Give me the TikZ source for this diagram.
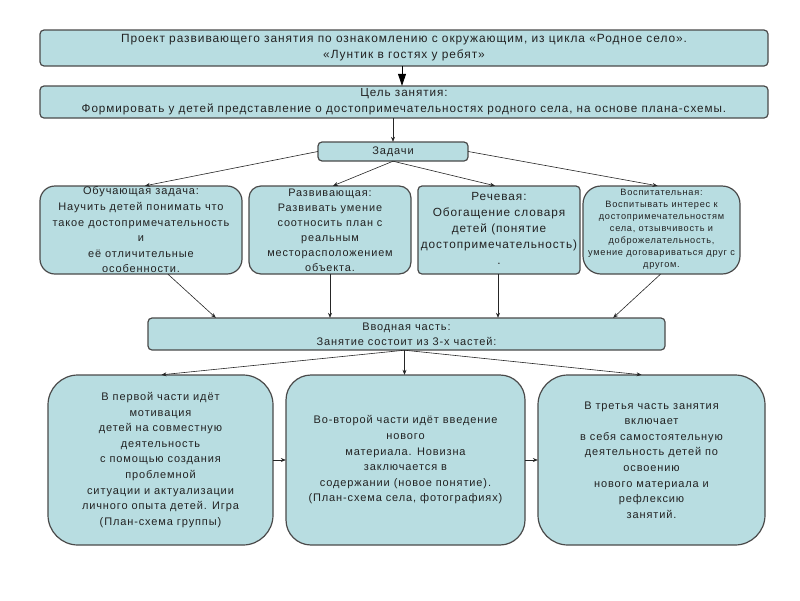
\documentclass[tikz,border=0pt]{standalone}
\usepackage{fontspec}
\setmainfont{Liberation Sans}[LetterSpace=8.0]
\usetikzlibrary{arrows.meta,calc}
\definecolor{boxfill}{HTML}{B8DDE1}
\definecolor{boxline}{HTML}{4A4A4A}
\definecolor{txt}{HTML}{222222}
\tikzset{
  box/.style={draw=boxline,fill=boxfill,line width=1.2pt,inner sep=0pt},
  sq/.style={box,rounded corners=4pt},
  txtnode/.style={align=center,text=txt,font=\fontsize{11}{15.6}\selectfont,inner sep=0pt},
  conn/.style={draw=black!85,line width=0.6pt,-{Stealth[length=5pt,width=4pt]}},
  bigconn/.style={draw=black,line width=0.8pt,-{Triangle[length=12pt,width=8pt]}}
}
\begin{document}
\begin{tikzpicture}[x=1pt,y=-1pt]
\useasboundingbox (0,0) rectangle (800,600);
% boxes
\path[sq] (40,30) rectangle (768,66);
\node[inner sep=0pt,minimum width=728pt,minimum height=36pt] (top) at (404,48) {};
\node[txtnode,font=\fontsize{11.9}{16}\selectfont] (toptxt) at (top.center) {Проект развивающего занятия по ознакомлению с окружающим, из цикла «Родное село».\\«Лунтик в гостях у ребят»};

\path[sq] (40,86) rectangle (768,118);
\node[inner sep=0pt,minimum width=728pt,minimum height=32pt] (goal) at (404,102) {};
\node[txtnode,font=\fontsize{11.7}{16}\selectfont] (goaltxt) at (goal.center) {Цель занятия:\\Формировать у детей представление о достопримечательностях родного села, на основе плана-схемы.};

\path[sq] (318,142) rectangle (468,161);
\node[inner sep=0pt,minimum width=150pt,minimum height=19pt] (zad) at (393,151.5) {};
\node[txtnode] (zadtxt) at (zad.center) {Задачи};

\path[box,rounded corners=15pt] (40,186) rectangle (242,274);
\node[inner sep=0pt,minimum width=202pt,minimum height=88pt] (A) at (141,230) {};
\node[txtnode] (Atxt) at (A.center) {Обучающая задача:\\Научить детей понимать что\\такое достопримечательность\\и\\её отличительные\\особенности.};

\path[box,rounded corners=12pt] (249,186) rectangle (411,274);
\node[inner sep=0pt,minimum width=162pt,minimum height=88pt] (B) at (330,230) {};
\node[txtnode,font=\fontsize{10.9}{15}\selectfont] (Btxt) at (B.center) {Развивающая:\\Развивать умение\\соотносить план с\\реальным\\месторасположением\\объекта.};

\path[box,rounded corners=4pt] (418,186) rectangle (580,274);
\node[inner sep=0pt,minimum width=162pt,minimum height=88pt] (C) at (499,230) {};
\node[txtnode,font=\fontsize{11.8}{16}\selectfont] (Ctxt) at ([yshift=2]C.center) {Речевая:\\Обогащение словаря\\детей (понятие\\достопримечательность)\\.};

\path[box,rounded corners=18pt] (583,186) rectangle (740,274);
\node[inner sep=0pt,minimum width=157pt,minimum height=88pt] (D) at (661.5,230) {};
\node[txtnode,font=\fontsize{9.2}{12}\selectfont] (Dtxt) at ([yshift=1]D.center) {Воспитательная:\\Воспитывать интерес к\\достопримечательностям\\села, отзывчивость и\\доброжелательность,\\умение договариваться друг с\\другом.};

\path[sq] (148,318) rectangle (665,350);
\node[inner sep=0pt,minimum width=517pt,minimum height=32pt] (intro) at (406.5,334) {};
\node[txtnode,font=\fontsize{11}{15}\selectfont] (introtxt) at (intro.center) {Вводная часть:\\Занятие состоит из 3-х частей:};

\path[box,rounded corners=30pt] (48,375) rectangle (273,545);
\node[inner sep=0pt,minimum width=225pt,minimum height=170pt] (E) at (160.5,460) {};
\node[txtnode] (Etxt) at (E.center) {В первой части идёт\\мотивация\\детей на совместную\\деятельность\\с помощью создания\\проблемной\\ситуации и актуализации\\личного опыта детей. Игра\\(План-схема группы)};

\path[box,rounded corners=25pt] (286,375) rectangle (525,545);
\node[inner sep=0pt,minimum width=239pt,minimum height=170pt] (F) at (405.5,460) {};
\node[txtnode] (Ftxt) at (F.center) {Во-второй части идёт введение\\нового\\материала. Новизна\\заключается в\\содержании (новое понятие).\\(План-схема села, фотографиях)};

\path[box,rounded corners=30pt] (538,375) rectangle (765,545);
\node[inner sep=0pt,minimum width=227pt,minimum height=170pt] (G) at (651.5,460) {};
\node[txtnode] (Gtxt) at (G.center) {В третья часть занятия\\включает\\в себя самостоятельную\\деятельность детей по\\освоению\\нового материала и\\рефлексию\\занятий.};

% connectors
\draw[bigconn] ([xshift=-2]top.south) -- ([xshift=-2]goal.north);
\draw[conn] (zad.north |- goal.south) -- (zad.north);
\draw[conn] (zad.west) -- ([xshift=4]A.north);
\draw[conn] (zad.south) -- ([xshift=3]B.north);
\draw[conn] (zad.south) -- ([xshift=-4]C.north);
\draw[conn] (zad.east) -- ([xshift=-4]D.north);
\draw[conn] ([xshift=27]A.south) -- ([xshift=68]intro.north west);
\draw[conn] (B.south) -- (B.south |- intro.north);
\draw[conn] ([xshift=-1]C.south) -- ([xshift=-1]C.south |- intro.north);
\draw[conn] ([xshift=-1]D.south) -- ([xshift=-52]intro.north east);
\draw[conn] ([xshift=-2]intro.south) -- ([xshift=1]E.north);
\draw[conn] ([xshift=-2]intro.south) -- ([xshift=-1]F.north);
\draw[conn] ([xshift=-2]intro.south) -- ([xshift=-10]G.north);
\draw[conn] (E.east) -- (F.west);
\draw[conn] (F.east) -- (G.west);
\end{tikzpicture}
\end{document}
